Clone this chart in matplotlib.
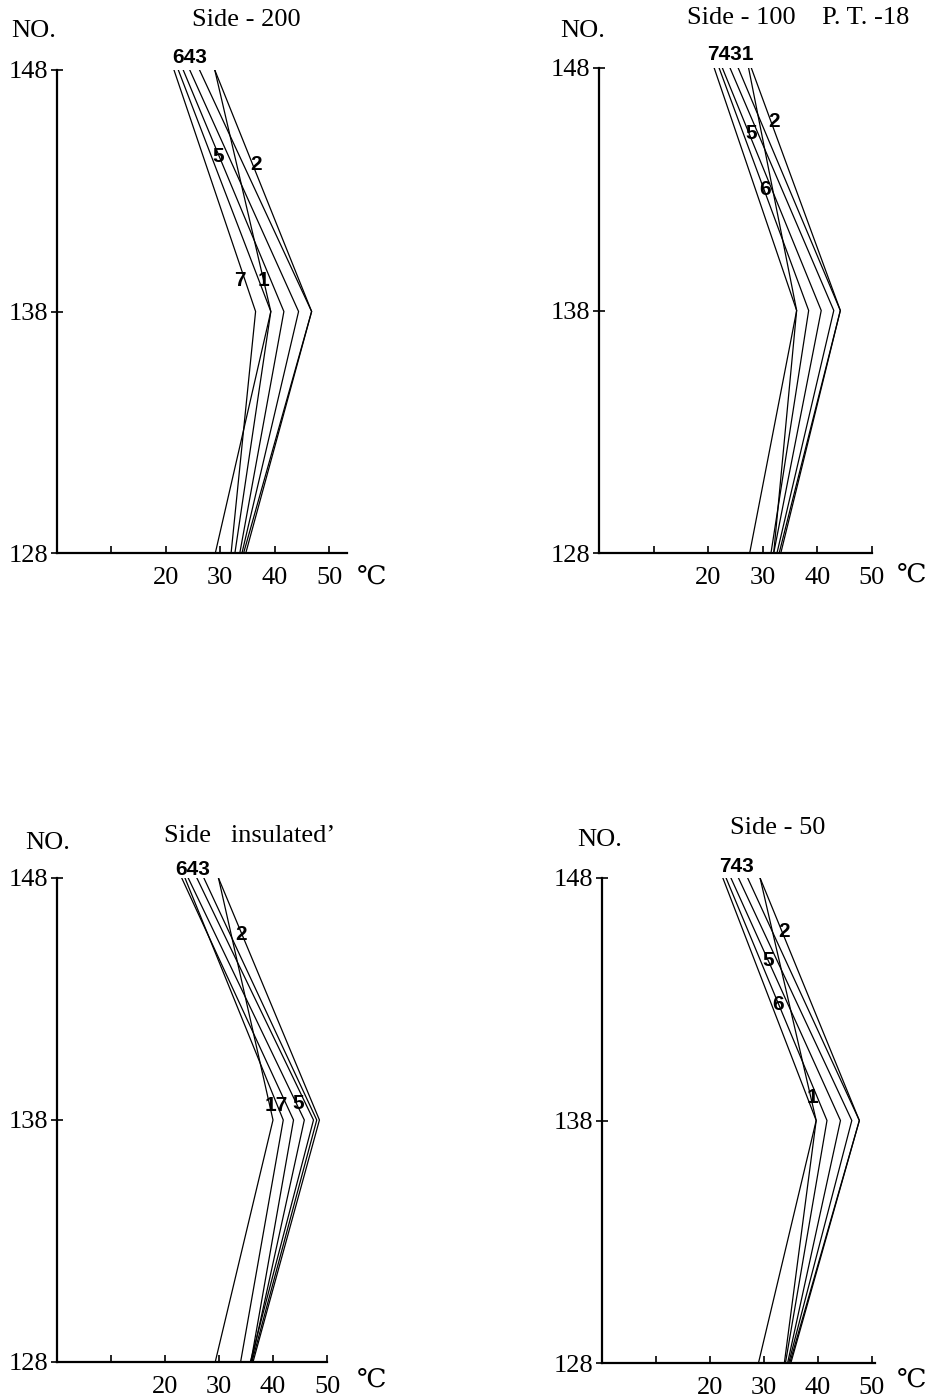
import numpy as np
import matplotlib
matplotlib.use("Agg")
import matplotlib.pyplot as plt

# depth positions (NO.) where temperatures were read
levels = [148, 138, 128]

# temperature (deg C) of each numbered line at NO. 148 / 138 / 128, lines 1..7
s200_top = [29.0, 29.0, 26.2, 24.4, 23.2, 22.3, 21.5]
s200_mid = [39.3, 46.8, 46.8, 44.4, 41.7, 39.3, 36.5]
s200_bot = [29.1, 34.7, 34.3, 34.0, 33.6, 32.7, 32.0]

s100_top = [27.4, 27.9, 25.5, 24.0, 22.6, 22.0, 21.1]
s100_mid = [36.2, 44.2, 44.2, 43.0, 40.7, 38.4, 36.2]
s100_bot = [32.0, 33.3, 33.0, 32.6, 32.0, 31.5, 27.6]

ins_top = [29.9, 29.9, 27.2, 25.9, 24.3, 23.1, 23.7]
ins_mid = [40.0, 48.6, 48.1, 47.5, 45.8, 43.8, 41.9]
ins_bot = [29.3, 36.3, 36.1, 35.8, 36.0, 35.9, 34.0]

s50_top = [29.3, 29.3, 27.0, 25.3, 23.9, 23.0, 22.4]
s50_mid = [39.7, 47.7, 47.7, 46.3, 44.2, 41.7, 39.7]
s50_bot = [29.0, 35.0, 34.8, 34.6, 34.4, 34.0, 33.8]

titles = ["Side - 200", "Side - 100    P. T. -18", "Side   insulated\u2019", "Side - 50"]
xticks = [10, 20, 30, 40, 50]
xticklabels = ["", "20", "30", "40", "50"]

# line-number tags: (text, temperature, NO.)
tags = [
    [("643", 24.35, 148.5), ("5", 29.7, 144.4), ("2", 36.5, 144.1),
     ("7", 33.7, 139.3), ("1", 38.0, 139.3)],
    [("7431", 24.0, 148.55), ("2", 32.0, 145.8), ("5", 27.8, 145.3),
     ("6", 30.4, 143.0)],
    [("643", 25.2, 148.35), ("2", 34.0, 145.65), ("17", 40.6, 138.6),
     ("5", 44.6, 138.7)],
    [("743", 24.9, 148.47), ("2", 33.8, 145.8), ("5", 30.9, 144.6),
     ("6", 32.7, 142.8), ("1", 39.0, 138.95)],
]

panels = [(s200_top, s200_mid, s200_bot),
          (s100_top, s100_mid, s100_bot),
          (ins_top, ins_mid, ins_bot),
          (s50_top, s50_mid, s50_bot)]

W, H = 941, 1397
# pixel boxes: left, top, bottom, right, xmax
boxes = [(57, 70, 553, 347, 53.3),
         (599, 68, 553, 872, 50.0),
         (57, 878, 1362, 327, 50.0),
         (602, 878, 1363, 875, 50.6)]
title_pos = [(246, 20), (798, 18), (250, 836), (778, 828)]
no_pos = [(34, 31), (583, 31), (48, 843), (600, 840)]
deg_pos = [(372, 578), (912, 576), (372, 1381), (912, 1381)]

serif = ["Liberation Serif", "DejaVu Serif"]
tagfont = ["Liberation Sans", "DejaVu Sans"]

fig = plt.figure(figsize=(W / 100, H / 100), dpi=100)

for i, (top, mid, bot) in enumerate(panels):
    l, t, b, r, xmax = boxes[i]
    ax = fig.add_axes([l / W, 1 - b / H, (r - l) / W, (b - t) / H])
    for k in range(7):
        ax.plot([top[k], mid[k], bot[k]], levels, color="black", lw=0.9)
    ax.set_xlim(0, xmax)
    ax.set_ylim(128, 148)
    ax.spines["top"].set_visible(False)
    ax.spines["right"].set_visible(False)
    ax.spines["left"].set_linewidth(1.6)
    ax.spines["bottom"].set_linewidth(1.6)
    ax.set_xticks(xticks)
    ax.set_xticklabels(xticklabels, family=serif, fontsize=19)
    ax.set_yticks(levels)
    ax.set_yticklabels([str(v) for v in levels], family=serif, fontsize=19)
    ax.tick_params(axis="x", direction="in", length=5, width=1.2, pad=10)
    ax.tick_params(axis="y", direction="inout", length=8, width=1.2, pad=2)
    for txt, tx, ty in tags[i]:
        ax.text(tx, ty, txt, ha="center", va="center", fontsize=15,
                fontweight="bold", family=tagfont)
    tx, ty = title_pos[i]
    fig.text(tx / W, 1 - ty / H, titles[i], ha="center", va="center",
             family=serif, fontsize=19)
    nx, ny = no_pos[i]
    fig.text(nx / W, 1 - ny / H, "NO.", ha="center", va="center",
             family=serif, fontsize=19)
    dx, dy = deg_pos[i]
    fig.text(dx / W, 1 - dy / H, "\u2103", ha="center", va="center",
             family=serif, fontsize=19)

fig.savefig("out.png", dpi=100, facecolor="white")
